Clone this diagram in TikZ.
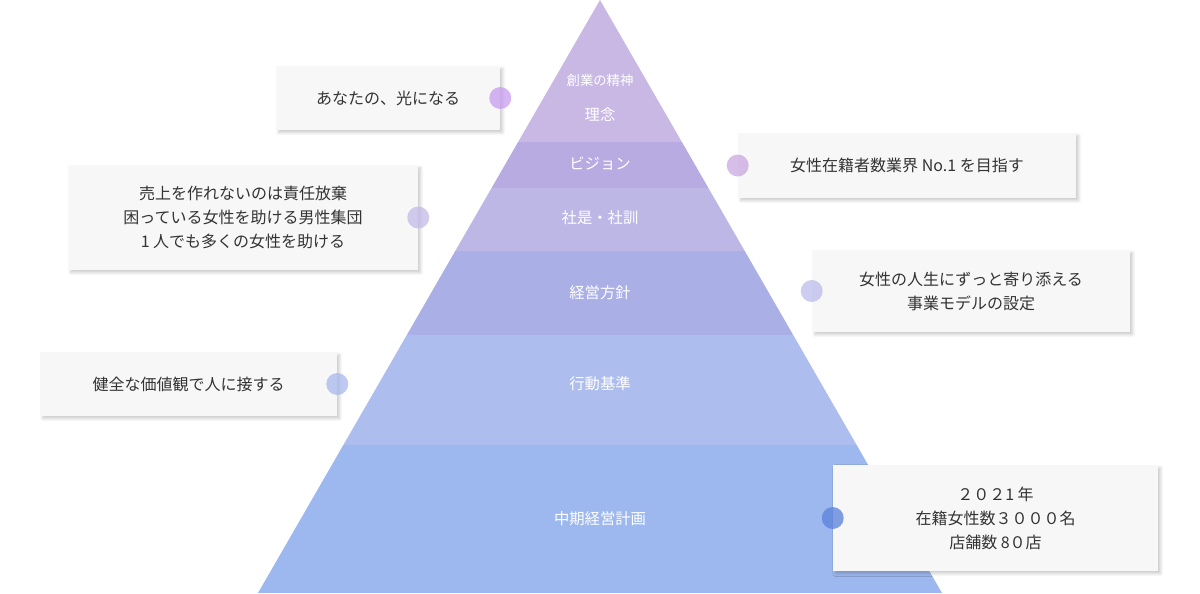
\documentclass[tikz,border=0pt]{standalone}
\usepackage{fontspec}
\setmainfont{Noto Sans CJK JP}
\usetikzlibrary{shadows.blur}
\definecolor{cA}{HTML}{C9B8E4}
\definecolor{cB}{HTML}{B8ABE2}
\definecolor{cC}{HTML}{BDB7E6}
\definecolor{cD}{HTML}{AAB0E6}
\definecolor{cE}{HTML}{ADBDEE}
\definecolor{cF}{HTML}{9DB8EE}
\definecolor{d1}{HTML}{C89CF0}
\definecolor{d2}{HTML}{C8A8E0}
\definecolor{d3}{HTML}{C4BAE8}
\definecolor{d4}{HTML}{BCBCEC}
\definecolor{d5}{HTML}{A8B8EC}
\definecolor{d6}{HTML}{5A80DC}
\tikzset{
 card/.style={fill=white!97!black, draw=none, blur shadow={shadow xshift=2pt,shadow yshift=-2pt,shadow blur steps=6,shadow opacity=20}, align=center, font=\fontsize{12}{18}\selectfont, text=black!80},
 dot/.style={circle, minimum size=16.5pt, inner sep=0pt, opacity=0.75},
 lab/.style={text=white, font=\fontsize{11.5}{14}\selectfont}
}
\begin{document}
\begin{tikzpicture}[x=0.75pt,y=-0.75pt]
\useasboundingbox (0,0) rectangle (1200,593);
\begin{scope}
\clip (600,0) -- (942,593) -- (258,593) -- cycle;
\fill[cA] (200,0) rectangle (1000,142);
\fill[cB] (200,142) rectangle (1000,188);
\fill[cC] (200,188) rectangle (1000,251);
\fill[cD] (200,251) rectangle (1000,335);
\fill[cE] (200,335) rectangle (1000,445);
\fill[cF] (200,445) rectangle (1000,593);
\end{scope}
\node[lab, font=\fontsize{10}{12}\selectfont] (l0) at (600,80) {創業の精神};
\node[lab] (l1) at (600,115) {理念};
\node[lab] (l2) at (600,164) {ビジョン};
\node[lab] (l3) at (600,218) {社是・社訓};
\node[lab] (l4) at (600,293) {経営方針};
\node[lab] (l5) at (600,384) {行動基準};
\node[lab] (l6) at (600,519) {中期経営計画};

\node[card, minimum width=168pt, minimum height=48pt] (b1) at (388,98) {あなたの、光になる};
\node[card, minimum width=253.5pt, minimum height=48.75pt] (b2) at (907,165.5) {女性在籍者数業界 No.1 を目指す};
\node[card, minimum width=262.5pt, minimum height=78.75pt] (b3) at (243,217.5) {売上を作れないのは責任放棄\\困っている女性を助ける男性集団\\1 人でも多くの女性を助ける};
\node[card, minimum width=238.5pt, minimum height=61.5pt] (b4) at (971,291) {女性の人生にずっと寄り添える\\事業モデルの設定};
\node[card, minimum width=222.75pt, minimum height=48pt] (b5) at (188.5,384) {健全な価値観で人に接する};
\node[card, minimum width=243.75pt, minimum height=79.5pt] (b6) at (995.5,518) {２０２1 年\\在籍女性数３０００名\\店舗数 8０店};

\node[dot, fill=d1] (p1) at (b1.east) {};
\node[dot, fill=d2] (p2) at (b2.west) {};
\node[dot, fill=d3] (p3) at (b3.east) {};
\node[dot, fill=d4] (p4) at (b4.west) {};
\node[dot, fill=d5] (p5) at (b5.east) {};
\node[dot, fill=d6] (p6) at (b6.west) {};
\end{tikzpicture}
\end{document}
